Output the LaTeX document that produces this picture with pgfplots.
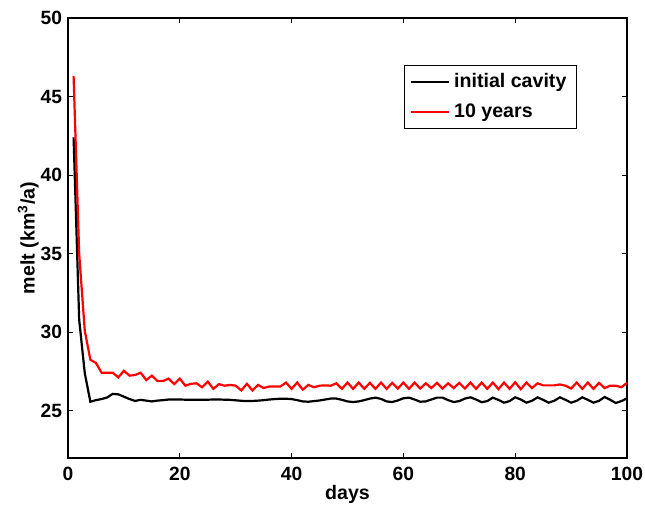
\documentclass[border=0pt]{standalone}
\usepackage{pgfplots}
\pgfplotsset{compat=1.18}
\usepackage{pgfplotstable}
\usepackage{fontspec}
\setmainfont{Liberation Sans}
\pgfplotstableread{
d b r
1 42.4 46.3
2 30.8 35.0
3 27.4 30.1
4 25.58 28.25
5 25.68 28.05
6 25.75 27.43
7 25.85 27.43
8 26.08 27.43
9 26.05 27.13
10 25.9 27.55
11 25.75 27.24
12 25.63 27.28
13 25.7 27.43
14 25.65 26.96
15 25.6 27.24
16 25.65 26.9
17 25.68 26.9
18 25.72 27.05
19 25.72 26.7
20 25.72 27.05
21 25.71 26.6
22 25.71 26.72
23 25.7 26.75
24 25.7 26.5
25 25.71 26.86
26 25.72 26.4
27 25.72 26.7
28 25.71 26.6
29 25.7 26.65
30 25.67 26.6
31 25.64 26.3
32 25.62 26.72
33 25.63 26.3
34 25.65 26.65
35 25.68 26.45
36 25.72 26.55
37 25.75 26.55
38 25.77 26.55
39 25.77 26.8
40 25.75 26.4
41 25.68 26.8
42 25.6 26.35
43 25.58 26.65
44 25.62 26.5
45 25.66 26.6
46 25.72 26.62
47 25.78 26.6
48 25.78 26.75
49 25.7 26.4
50 25.6 26.8
51 25.56 26.4
52 25.6 26.8
53 25.68 26.4
54 25.78 26.78
55 25.84 26.4
56 25.76 26.8
57 25.6 26.4
58 25.56 26.78
59 25.66 26.42
60 25.8 26.8
61 25.84 26.4
62 25.72 26.8
63 25.58 26.42
64 25.6 26.75
65 25.72 26.45
66 25.84 26.78
67 25.84 26.42
68 25.68 26.75
69 25.56 26.45
70 25.62 26.78
71 25.78 26.42
72 25.86 26.8
73 25.72 26.4
74 25.55 26.8
75 25.62 26.4
76 25.84 26.8
77 25.7 26.38
78 25.52 26.8
79 25.62 26.4
80 25.86 26.82
81 25.72 26.38
82 25.52 26.8
83 25.64 26.45
84 25.86 26.75
85 25.7 26.62
86 25.52 26.62
87 25.64 26.62
88 25.86 26.68
89 25.7 26.6
90 25.52 26.42
91 25.64 26.8
92 25.86 26.4
93 25.7 26.8
94 25.52 26.4
95 25.64 26.78
96 25.88 26.45
97 25.7 26.6
98 25.5 26.6
99 25.62 26.5
100 25.8 26.78
}\data
\begin{document}
\fontsize{9.8}{11.8}\selectfont\bfseries
\begin{tikzpicture}
\useasboundingbox (0,0) rectangle (322.5pt,253pt);
\begin{axis}[
  at={(34pt,24pt)}, anchor=south west,
  scale only axis, width=279.5pt, height=220pt,
  xmin=0, xmax=100, ymin=22, ymax=50,
  xtick={0,20,...,100}, ytick={25,30,...,50},
  tick align=inside, major tick length=2.5pt,
  tick style={black, line width=0.5pt},
  axis line style={line width=0.75pt},
  /pgf/number format/assume math mode=true,
  tick label style={font=\fontsize{9.6}{11.5}\selectfont\bfseries},
  yticklabel style={xshift=0.5pt},
  xticklabel style={yshift=-1.2pt},
  xlabel={days}, ylabel={melt (km$^{\mathbf{3}}$/a)},
  label style={font=\fontsize{9.8}{11.8}\selectfont\bfseries},
  xlabel style={at={(axis description cs:0.5,-0.082)}, anchor=center},
  ylabel style={at={(axis description cs:-0.071,0.5)}, anchor=center},
  legend style={at={(rel axis cs:0.9106,0.893)}, anchor=north east,
    draw=black, line width=0.6pt, font=\fontsize{9.8}{11.8}\selectfont\bfseries,
    inner xsep=3pt, inner ysep=2pt, row sep=2.5pt},
  legend cell align=left,
  legend image code/.code={\draw[#1, line width=1pt] (0pt,0pt) -- (19pt,0pt);},
]
\addplot[black, line width=1.1pt] table[x=d, y=b] {\data};
\addlegendentry{initial cavity}
\addplot[red, line width=1.1pt] table[x=d, y=r] {\data};
\addlegendentry{10 years}
\end{axis}
\end{tikzpicture}
\end{document}
